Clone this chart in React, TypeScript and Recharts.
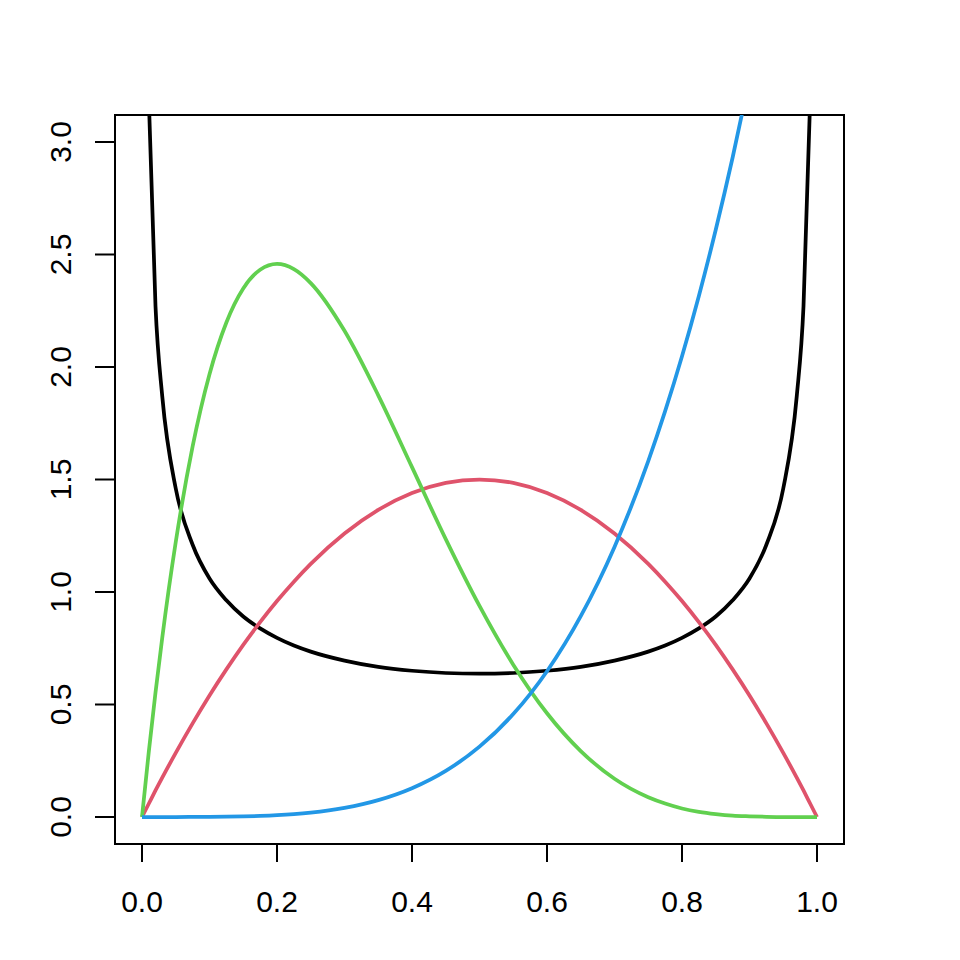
import { LineChart, Line, XAxis, YAxis, ReferenceArea } from 'recharts';

// sample points along x
const xs = [
  0, 0.01, 0.02, 0.03, 0.05, 0.075, 0.1, 0.125, 0.15, 0.175, 0.2, 0.225, 0.25, 0.3, 0.35, 0.4, 0.45, 0.5,
  0.55, 0.6, 0.65, 0.7, 0.75, 0.775, 0.8, 0.825, 0.85, 0.875, 0.9, 0.925, 0.95, 0.97, 0.98, 0.99, 1,
];

const blackY = [
  null, 3.2, 2.27, 1.87, 1.46, 1.21, 1.06, 0.963, 0.891, 0.838, 0.796, 0.762, 0.735, 0.695, 0.667, 0.65, 0.64, 0.637,
  0.64, 0.65, 0.667, 0.695, 0.735, 0.762, 0.796, 0.838, 0.891, 0.963, 1.06, 1.21, 1.46, 1.87, 2.27, 3.2, null,
];

const redY = [
  0, 0.059, 0.118, 0.175, 0.285, 0.416, 0.54, 0.656, 0.765, 0.866, 0.96, 1.046, 1.125, 1.26, 1.365, 1.44, 1.485, 1.5,
  1.485, 1.44, 1.365, 1.26, 1.125, 1.046, 0.96, 0.866, 0.765, 0.656, 0.54, 0.416, 0.285, 0.175, 0.118, 0.059, 0,
];

const greenY = [
  0, 0.288, 0.553, 0.797, 1.222, 1.647, 1.968, 2.198, 2.349, 2.432, 2.458, 2.435, 2.373, 2.161, 1.874, 1.555, 1.235, 0.938,
  0.677, 0.461, 0.293, 0.17, 0.088, 0.06, 0.038, 0.023, 0.013, 0.006, 0.003, 0.001, 0, 0, 0, 0, 0,
];

const blueY = [
  0, 0, 0, 0, 0, 0.0002, 0.0005, 0.0012, 0.0025, 0.0047, 0.008, 0.0128, 0.0195, 0.0405, 0.075, 0.128, 0.205, 0.3125,
  0.4575, 0.648, 0.8925, 1.2005, 1.582, 1.804, 2.048, 2.316, 2.61, 2.931, 3.2805, 3.66, 4.07, 4.43, 4.61, 4.8, 5,
];

const xTicks = [0, 0.2, 0.4, 0.6, 0.8, 1];
const yTicks = [0, 0.5, 1, 1.5, 2, 2.5, 3];

const rows = xs.map((x, i) => ({ x, black: blackY[i], red: redY[i], green: greenY[i], blue: blueY[i] }));

const font = '"Liberation Sans", Arial, sans-serif';

function YTick(props: any) {
  const { y, payload } = props;
  const x = 71;
  return (
    <text x={x} y={y} transform={`rotate(-90, ${x}, ${y})`} textAnchor="middle" fontSize={30} fontFamily={font} fill="#000">
      {Number(payload.value).toFixed(1)}
    </text>
  );
}

export default function App() {
  return (
    <div style={{ position: 'absolute', left: 0, top: 0, width: 960, height: 960, background: '#fff' }}>
      <LineChart width={960} height={960} data={rows} margin={{ top: 115, right: 116, bottom: 36, left: 35 }}>
        <XAxis
          dataKey="x"
          type="number"
          domain={[-0.04, 1.04]}
          ticks={xTicks}
          allowDataOverflow
          height={80}
          axisLine={false}
          tickLine={{ stroke: '#000', strokeWidth: 2 }}
          tickSize={18}
          tickMargin={29}
          tickFormatter={(v: number) => v.toFixed(1)}
          tick={{ fill: '#000', fontSize: 30, fontFamily: font }}
        />
        <YAxis
          type="number"
          domain={[-0.12, 3.12]}
          ticks={yTicks}
          allowDataOverflow
          width={80}
          axisLine={false}
          tickLine={{ stroke: '#000', strokeWidth: 2 }}
          tickSize={20}
          tick={<YTick />}
        />
        <ReferenceArea x1={-0.04} x2={1.04} y1={-0.12} y2={3.12} fill="none" stroke="#000" strokeWidth={2} ifOverflow="visible" />
        <Line type="monotone" dataKey="black" stroke="#000000" strokeWidth={3.75} dot={false} isAnimationActive={false} />
        <Line type="monotone" dataKey="red" stroke="#DF536B" strokeWidth={3.75} dot={false} isAnimationActive={false} />
        <Line type="monotone" dataKey="green" stroke="#61D04F" strokeWidth={3.75} dot={false} isAnimationActive={false} />
        <Line type="monotone" dataKey="blue" stroke="#2297E6" strokeWidth={3.75} dot={false} isAnimationActive={false} />
      </LineChart>
    </div>
  );
}
